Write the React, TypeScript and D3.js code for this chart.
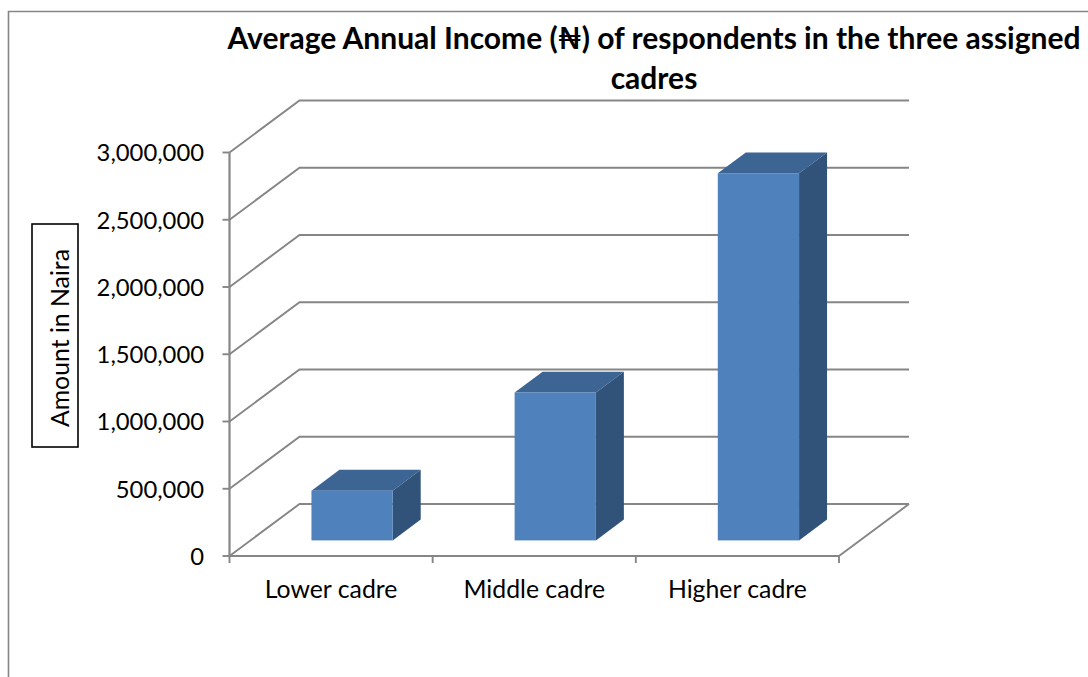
import React from "react";
import * as d3 from "d3";

const categories = ["Lower cadre", "Middle cadre", "Higher cadre"];
const incomes = [370000, 1100000, 2730000];
const tickValues = [0, 500000, 1000000, 1500000, 2000000, 2500000, 3000000];
const titleLines = ["Average Annual Income (₦) of respondents in the three assigned", "cadres"];
const yAxisTitle = "Amount in Naira";

const WIDTH = 1088;
const HEIGHT = 677;
const FONT = "Lato, Carlito, Calibri, sans-serif";
const GRID = "#868686";

// Oblique projection of the 3D box: depth runs up and to the right.
const DEPTH_X = 70;
const DEPTH_Y = -52;
const BAR_NEAR = 0.3;
const BAR_FAR = 0.7;

const x = d3.scaleBand<string>().domain(categories).range([229.5, 839]).paddingInner(0).paddingOuter(0);
const y = d3.scaleLinear().domain([0, 3000000]).range([556, 152.5]);
const fmt = d3.format(",");

const poly = (pts: [number, number][]) => d3.line()(pts) + "Z";

function Bar({ category, value }: { category: string; value: number }) {
  const band = x.bandwidth();
  const w = band * 0.4;
  const left = (x(category) as number) + (band - w) / 2 + DEPTH_X * BAR_NEAR;
  const right = left + w;
  const base = y(0) + DEPTH_Y * BAR_NEAR;
  const top = y(value) + DEPTH_Y * BAR_NEAR;
  const dx = DEPTH_X * (BAR_FAR - BAR_NEAR);
  const dy = DEPTH_Y * (BAR_FAR - BAR_NEAR);
  return (
    <g>
      <path d={poly([[left, top], [right, top], [right + dx, top + dy], [left + dx, top + dy]])} fill="#3D6594" />
      <path d={poly([[right, top], [right + dx, top + dy], [right + dx, base + dy], [right, base]])} fill="#325379" />
      <rect x={left} y={top} width={w} height={base - top} fill="#4F81BD" />
    </g>
  );
}

export default function App() {
  const [x0, x1] = x.range();
  return (
    <svg
      width={WIDTH}
      height={HEIGHT}
      viewBox={`0 0 ${WIDTH} ${HEIGHT}`}
      style={{ position: "absolute", left: 0, top: 0, background: "#fff" }}
      fontFamily={FONT}
    >
      {/* outer page frame */}
      <path d={`M8.5 ${HEIGHT}V11.5H${WIDTH}`} fill="none" stroke={GRID} strokeWidth={1.6} />

      {titleLines.map((line, i) => (
        <text key={i} x={654} y={49 + i * 40} textAnchor="middle" fontSize={30} fontWeight={700} fill="#000">
          {line}
        </text>
      ))}

      {/* back wall and side wall gridlines */}
      <g fill="none" stroke={GRID} strokeWidth={1.9}>
        {tickValues.map((t) => (
          <path key={t} d={`M${x0} ${y(t)}L${x0 + DEPTH_X} ${y(t) + DEPTH_Y}H${x1 + DEPTH_X}`} />
        ))}
        {/* floor edge on the right */}
        <path d={`M${x1} ${y(0)}L${x1 + DEPTH_X} ${y(0) + DEPTH_Y}`} />
        {/* front axes */}
        <path d={`M${x0} ${y(3000000)}V${y(0)}H${x1}`} strokeWidth={2.2} />
        {tickValues.map((t) => (
          <path key={t} d={`M${x0 - 7} ${y(t)}H${x0}`} />
        ))}
        {categories.map((c) => (
          <path key={c} d={`M${x(c)} ${y(0)}v7`} />
        ))}
        <path d={`M${x1} ${y(0)}v7`} />
      </g>

      {categories.map((c, i) => (
        <Bar key={c} category={c} value={incomes[i]} />
      ))}

      <g fontSize={23.8} fill="#000">
        {tickValues.map((t) => (
          <text key={t} x={204} y={y(t) + 0.5} dy="0.35em" textAnchor="end">
            {fmt(t)}
          </text>
        ))}
        {categories.map((c) => (
          <text key={c} x={(x(c) as number) + x.bandwidth() / 2} y={598} textAnchor="middle" fontSize={24.8}>
            {c}
          </text>
        ))}
      </g>

      {/* boxed axis title */}
      <rect x={32} y={224} width={46} height={223} fill="#fff" stroke="#000" strokeWidth={1.6} />
      <text transform="translate(69,338) rotate(-90)" textAnchor="middle" fontSize={24.8} fill="#000">
        {yAxisTitle}
      </text>
    </svg>
  );
}
